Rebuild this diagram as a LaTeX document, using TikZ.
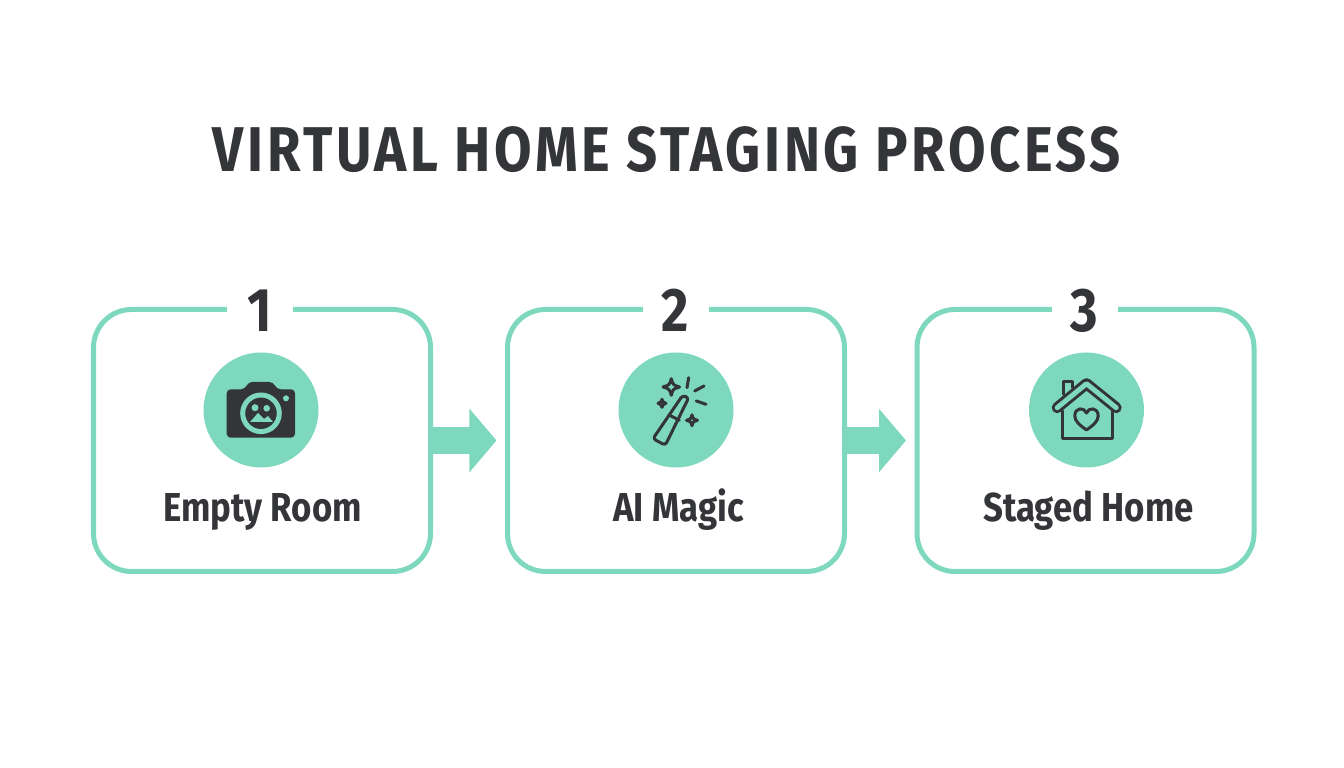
\documentclass[tikz,border=0pt]{standalone}
\usepackage{fontspec}
\setmainfont[FakeStretch=0.86]{Fira Sans}
\usetikzlibrary{calc, arrows.meta}

\definecolor{mintcol}{HTML}{7DD8BE}
\definecolor{inkcol}{HTML}{333538}

\tikzset{
  boxnode/.style={draw=mintcol, line width=0.05cm, rounded corners=0.38cm, minimum width=3.37cm, minimum height=2.62cm},
  numnode/.style={fill=white, text=inkcol, font=\fontsize{17.5}{17.5}\selectfont\bfseries, anchor=base, minimum width=0.66cm, minimum height=0.5cm, inner sep=0pt},
  iconnode/.style={circle, fill=mintcol, minimum size=1.15cm, inner sep=0pt},
  labelnode/.style={text=inkcol, font=\fontsize{11.5}{11.5}\selectfont\bfseries, anchor=base},
  flowarrow/.style={mintcol, line width=0.27cm, -{Triangle[length=0.27cm, width=0.62cm]}, shorten >=0.085cm},
  iconline/.style={inkcol, line width=0.03cm, line cap=round, line join=round}
}

\begin{document}
\begin{tikzpicture}
\useasboundingbox (0,0) rectangle (13.44,7.68);

\node[text=inkcol, font=\fontsize{18}{18}\selectfont\bfseries\addfontfeature{LetterSpace=5.7}, anchor=base] (title) at (6.67,5.96) {VIRTUAL HOME STAGING PROCESS};

\node[boxnode] (box1) at (2.62,3.275) {};
\node[boxnode] (box2) at (6.76,3.275) {};
\node[boxnode] (box3) at (10.855,3.275) {};

\draw[flowarrow] (box1.east) -- (box2.west);
\draw[flowarrow] (box2.east) -- (box3.west);

\node[numnode] (num1) at (2.60,4.36) {1};
\node[numnode] (num2) at (6.755,4.36) {2};
\node[numnode] (num3) at (10.845,4.36) {3};

\node[iconnode] (icon1) at (2.61,3.58) {};
\node[iconnode] (icon2) at (6.76,3.58) {};
\node[iconnode] (icon3) at (10.865,3.58) {};

\node[labelnode] (label1) at (2.625,2.46) {Empty Room};
\node[labelnode] (label2) at (6.785,2.46) {AI Magic};
\node[labelnode] (label3) at (10.885,2.46) {Staged Home};

% camera
\begin{scope}[shift={(icon1.center)}]
\fill[inkcol, rounded corners=0.04cm] (-0.343,-0.277) -- (-0.343,0.207) -- (-0.16,0.207) -- (-0.127,0.28) -- (0.123,0.28) -- (0.157,0.207) -- (0.34,0.207) -- (0.34,-0.277) -- cycle;
\draw[mintcol, line width=0.05cm] (0,-0.033) circle (0.183);
\fill[mintcol] (0.25,0.117) circle (0.03);
\fill[mintcol] (-0.06,0.023) circle (0.035);
\fill[mintcol] (0.057,0.017) circle (0.033);
\fill[mintcol] (-0.11,-0.12) -- (-0.03,-0.03) -- (0.03,-0.09) -- (0.07,-0.06) -- (0.12,-0.12) -- cycle;
\end{scope}

% wand
\begin{scope}[shift={(icon2.center)}]
\draw[iconline, rounded corners=0.03cm] (0.067,0.147) -- (0.127,0.123) -- (-0.107,-0.353) -- (-0.23,-0.287) -- cycle;
\draw[iconline] (-0.063,-0.053) -- (0.033,-0.103);
\draw[iconline] (-0.047,0.313) .. controls (-0.03,0.25) .. (0.036,0.23) .. controls (-0.03,0.21) .. (-0.047,0.147) .. controls (-0.065,0.21) .. (-0.13,0.23) .. controls (-0.065,0.25) .. cycle;
\draw[iconline] (-0.14,0.107) .. controls (-0.13,0.077) .. (-0.1,0.067) .. controls (-0.13,0.057) .. (-0.14,0.027) .. controls (-0.15,0.057) .. (-0.18,0.067) .. controls (-0.15,0.077) .. cycle;
\draw[iconline] (0.16,-0.048) .. controls (0.172,-0.09) .. (0.215,-0.103) .. controls (0.172,-0.116) .. (0.16,-0.158) .. controls (0.148,-0.116) .. (0.105,-0.103) .. controls (0.148,-0.09) .. cycle;
\draw[iconline] (0.11,0.223) -- (0.127,0.323);
\draw[iconline] (0.187,0.19) -- (0.28,0.24);
\draw[iconline] (0.203,0.09) -- (0.3,0.057);
\end{scope}

% house
\begin{scope}[shift={(icon3.center)}]
\draw[iconline] (-0.227,0.157) -- (-0.227,0.28) -- (-0.137,0.28) -- (-0.137,0.223);
\draw[iconline] (-0.243,-0.01) -- (-0.243,-0.287) -- (0.257,-0.287) -- (0.257,-0.01);
\draw[iconline, double=mintcol, double distance=0.05cm] (-0.293,0.023) -- (0,0.263) -- (0.297,0.023);
\draw[iconline] (0,-0.2) .. controls (-0.07,-0.15) and (-0.117,-0.11) .. (-0.117,-0.06) .. controls (-0.117,0.03) and (-0.02,0.03) .. (0,-0.03) .. controls (0.02,0.03) and (0.117,0.03) .. (0.117,-0.06) .. controls (0.117,-0.11) and (0.07,-0.15) .. (0,-0.2) -- cycle;
\end{scope}
\end{tikzpicture}
\end{document}
